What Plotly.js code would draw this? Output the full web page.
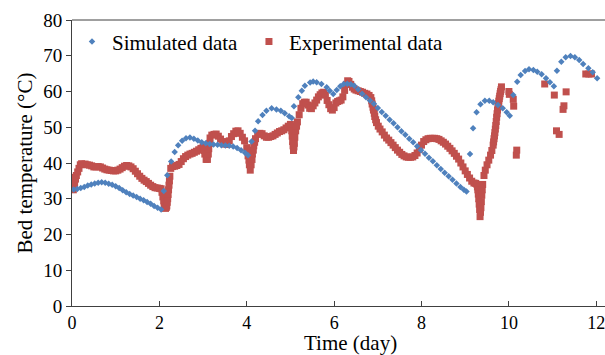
<!DOCTYPE html>
<html>
<head>
<meta charset="utf-8">
<script src="https://cdn.plot.ly/plotly-3.0.1.min.js"></script>
<style>html,body{margin:0;padding:0;background:#fff;}#chart{width:605px;height:355px;}</style>
</head>
<body>
<div id="chart"></div>
<script>
const seriesNames = ["Simulated data", "Experimental data"];
const xTitle = "Time (day)";
const yTitle = "Bed temperature (°C)";
const xTicks = [0, 2, 4, 6, 8, 10, 12];
const yTicks = [0, 10, 20, 30, 40, 50, 60, 70, 80];

const simTime = [
  0.04,0.12,0.20,0.28,0.36,0.44,0.52,0.60,0.68,0.76,0.84,0.92,1.00,1.08,1.16,1.24,1.32,1.40,1.48,1.56,1.64,1.72,1.80,1.88,1.96,2.04,
  2.10,2.18,2.27,2.35,2.43,2.52,2.61,2.70,2.79,2.88,2.97,3.06,3.15,3.24,3.33,3.42,3.51,3.60,3.69,3.78,3.87,3.96,4.03,
  4.11,4.19,4.26,4.36,4.45,4.57,4.68,4.78,4.87,4.97,5.03,
  5.08,5.18,5.26,5.33,5.45,5.52,5.60,5.71,5.83,5.90,5.98,
  6.06,6.14,6.22,6.30,6.38,6.46,6.55,6.64,6.73,6.82,6.91,7.00,7.09,7.18,7.27,7.36,7.45,7.54,7.63,7.72,7.81,7.90,7.99,8.08,8.17,8.26,8.35,8.44,8.53,8.62,8.71,8.80,8.89,8.97,9.03,
  9.11,9.18,9.26,9.35,9.45,9.55,9.64,9.75,9.86,9.95,10.02,
  10.10,10.19,10.27,10.37,10.46,10.56,10.65,10.75,10.85,10.94,11.03,
  11.10,11.20,11.30,11.41,11.51,11.61,11.70,11.82,11.92,12.02
];
const simTemp = [
  32.6,32.7,33.0,33.3,33.7,34.0,34.3,34.5,34.6,34.5,34.2,33.9,33.5,33.0,32.4,31.8,31.3,30.9,30.5,30.0,29.6,29.1,28.6,28.0,27.5,27.0,
  32.2,36.6,40.4,43.1,45.0,46.2,46.9,47.1,46.8,46.3,45.8,45.5,45.3,45.2,45.1,45.0,44.9,44.8,44.6,44.2,43.6,42.9,42.2,
  46.0,49.0,51.7,53.4,54.6,55.3,55.0,54.6,53.9,53.1,52.6,
  55.9,58.4,60.2,61.6,62.5,62.8,62.6,62.1,61.2,60.2,59.3,
  60.4,61.5,62.1,62.2,62.0,61.6,60.6,59.4,58.4,57.5,56.6,55.4,54.3,53.2,52.1,51.1,50.0,48.9,47.9,46.8,45.8,44.7,43.6,42.6,41.5,40.5,39.4,38.3,37.3,36.3,35.3,34.3,33.3,32.5,32.0,
  42.5,49.7,54.2,56.4,57.4,57.4,57.0,56.2,55.3,54.2,53.2,
  59.0,62.7,64.6,65.7,66.2,66.0,65.5,64.8,63.7,62.6,61.5,
  65.8,68.3,69.6,69.9,69.6,68.8,67.7,66.5,65.4,63.7
];

const expTime = [
  0.03,0.03,0.04,0.05,0.06,0.08,0.10,0.13,0.16,0.19,0.22,0.26,0.30,0.35,0.40,0.45,0.50,0.55,0.60,0.65,0.70,0.75,0.80,0.85,0.90,0.95,1.00,1.05,1.10,1.15,1.20,1.25,1.30,1.35,1.40,1.45,1.50,1.55,1.60,1.65,1.70,1.75,1.80,1.85,1.90,1.95,2.00,2.04,
  2.06,2.08,2.10,2.11,2.13,2.14,2.16,2.17,2.18,2.19,2.20,2.21,2.22,2.23,2.24,2.26,2.30,2.35,2.40,2.45,2.50,2.55,2.60,2.65,2.70,2.75,2.80,2.85,2.90,2.95,3.00,3.02,3.04,3.07,3.10,3.12,3.13,3.15,3.16,3.20,3.25,3.30,3.35,3.40,3.45,3.50,3.55,3.60,3.65,3.70,3.75,3.80,3.85,3.90,3.95,4.00,4.02,4.03,4.05,4.06,4.08,4.10,4.12,4.13,4.15,4.16,4.18,4.20,4.25,4.30,4.35,4.40,4.45,4.50,4.55,4.60,4.65,4.70,4.75,4.80,4.85,4.90,4.95,5.00,
  5.02,5.03,5.04,5.05,5.06,5.07,5.08,5.09,5.10,5.12,5.14,5.16,5.20,5.24,5.28,5.32,5.36,5.40,5.44,5.48,5.52,5.56,5.60,5.64,5.68,5.72,5.76,5.80,5.84,5.88,5.92,5.96,6.00,6.04,6.08,6.12,6.16,6.20,6.24,6.28,6.31,6.34,6.38,6.42,6.46,6.50,6.55,6.60,6.65,6.70,6.75,6.80,6.84,6.86,6.87,6.89,6.90,6.92,6.93,6.95,6.97,
  7.01,7.05,7.10,7.15,7.20,7.25,7.30,7.35,7.40,7.45,7.50,7.55,7.60,7.65,7.70,7.75,7.80,7.85,7.90,7.95,8.00,8.05,8.10,8.15,8.20,8.25,8.30,8.35,8.40,8.45,8.50,8.55,8.60,8.65,8.70,8.75,8.80,8.85,8.90,8.95,9.00,9.05,9.10,9.15,9.20,9.24,9.27,9.28,9.29,9.30,9.31,9.32,9.33,9.34,9.35,9.36,9.37,9.38,9.39,9.40,9.43,9.46,9.50,9.54,9.58,9.61,9.64,9.65,9.66,9.67,9.68,9.69,9.70,9.71,9.72,9.73,9.74,9.75,9.76,9.77,9.78,9.79,9.80,9.81,9.82,9.83,
  10.00,10.01,10.10,10.11,10.17,10.18,10.82,11.04,11.09,11.15,11.24,11.26,11.31,11.76,11.83,11.89
];
const expTemp = [
  32.5,34.0,36.0,35.0,34.0,35.5,36.5,37.5,38.5,39.5,39.8,39.6,39.7,39.5,39.4,39.2,38.9,38.9,39.0,38.9,38.6,38.3,38.1,38.0,37.9,37.8,37.8,38.0,38.3,38.7,39.1,39.3,39.2,38.9,38.4,37.7,37.0,36.3,35.7,35.2,34.8,34.3,33.8,33.4,33.1,33.0,32.9,32.8,
  31.8,30.5,29.4,28.5,27.8,27.3,27.6,28.0,29.0,30.0,31.2,32.5,33.8,35.0,36.3,38.5,39.0,39.1,39.3,39.6,40.4,41.2,41.8,42.2,42.5,42.7,43.0,43.3,43.7,44.1,44.5,43.5,42.5,41.0,41.0,42.5,44.0,45.5,47.0,47.8,48.0,48.1,47.5,46.7,46.0,45.3,45.2,46.2,47.4,48.2,48.9,49.0,48.3,47.2,46.2,44.3,43.2,42.0,40.8,39.5,38.0,39.5,41.0,42.5,43.6,44.8,45.8,46.8,48.0,48.3,48.2,47.6,47.2,47.2,47.4,47.6,48.0,48.4,48.8,49.0,49.3,49.8,50.3,50.8,
  50.0,49.0,47.5,46.0,44.8,43.5,44.5,45.5,47.2,49.0,50.3,51.5,53.5,55.3,56.6,57.0,57.0,56.2,55.3,55.2,56.0,56.8,57.6,58.5,59.1,59.6,59.8,59.0,57.5,56.3,55.2,54.8,55.5,56.8,57.2,57.4,57.6,58.5,60.3,62.0,63.0,62.8,62.0,61.2,60.7,60.4,60.2,60.0,59.8,59.5,59.3,58.9,58.3,57.4,56.5,55.6,54.8,53.9,53.0,52.1,51.3,
  50.3,49.5,48.7,47.8,47.0,46.4,45.7,45.0,44.3,43.6,43.0,42.4,42.0,41.7,41.6,41.6,41.7,42.1,42.8,43.8,45.0,46.0,46.5,46.8,46.9,46.9,46.9,46.8,46.6,46.2,45.8,45.3,44.7,44.1,43.4,42.7,41.9,41.1,40.0,38.9,37.8,36.8,35.8,34.9,34.4,34.3,34.0,33.3,32.5,31.3,30.0,28.5,27.0,25.0,26.2,27.5,29.2,31.0,32.5,34.0,36.5,38.0,39.5,40.8,42.2,43.5,45.0,45.9,46.8,47.6,48.5,49.5,50.5,51.6,52.8,53.8,54.8,55.7,56.6,57.3,58.0,58.7,59.4,60.0,60.5,61.3,
  60.0,59.2,57.8,55.9,42.2,43.6,62.1,59.0,49.0,48.0,55.0,56.0,59.9,64.9,64.9,64.9
];

const fontFam = "Liberation Serif, Times New Roman, serif";
const axisColor = "#404040";

const traces = [
  {
    x: expTime, y: expTemp, name: seriesNames[1], type: "scatter", mode: "markers",
    marker: {symbol: "square", size: 7, color: "#C0504D"}, legend: "legend2"
  },
  {
    x: simTime, y: simTemp, name: seriesNames[0], type: "scatter", mode: "markers",
    marker: {symbol: "diamond", size: 5, color: "#4F81BD"}, legend: "legend"
  }
];

const legendFont = {family: fontFam, size: 21, color: "#000"};
const layout = {
  width: 605, height: 355,
  margin: {l: 72, r: 0, t: 20, b: 49},
  paper_bgcolor: "#fff", plot_bgcolor: "#fff",
  font: {family: fontFam, size: 19, color: "#000"},
  showlegend: true,
  legend: {
    orientation: "h", x: 0.0, y: 0.995, xanchor: "left", yanchor: "top",
    bgcolor: "rgba(0,0,0,0)", font: legendFont
  },
  legend2: {
    orientation: "h", x: 0.332, y: 0.995, xanchor: "left", yanchor: "top",
    bgcolor: "rgba(0,0,0,0)", font: legendFont
  },
  xaxis: {
    range: [0, 12.2], tickvals: xTicks, ticktext: xTicks.map(String),
    ticks: "inside", ticklen: 5, tickcolor: axisColor, tickwidth: 1,
    showline: true, linecolor: axisColor, linewidth: 1,
    showgrid: false, zeroline: false, ticklabeloverflow: "allow",
    tickfont: {family: fontFam, size: 18, color: "#000"}
  },
  yaxis: {
    range: [0, 80], tickvals: yTicks, ticktext: yTicks.map(String),
    ticks: "outside", ticklen: 5, tickcolor: axisColor, tickwidth: 1,
    showline: true, linecolor: axisColor, linewidth: 1,
    showgrid: false, zeroline: false,
    tickfont: {family: fontFam, size: 19, color: "#000"},
    title: {text: yTitle, font: {family: fontFam, size: 21, color: "#000"}, standoff: 4}
  },
  annotations: [
    {text: xTitle, xref: "paper", yref: "paper", x: 0.5216, y: -0.128,
     xanchor: "center", yanchor: "middle", showarrow: false,
     font: {family: fontFam, size: 21, color: "#000"}}
  ],
  shapes: [
    {type: "line", xref: "paper", yref: "paper", x0: 0, x1: 1, y0: 1, y1: 1,
     line: {color: axisColor, width: 1}}
  ]
};

Plotly.newPlot("chart", traces, layout, {staticPlot: true, displayModeBar: false});
</script>
</body>
</html>
